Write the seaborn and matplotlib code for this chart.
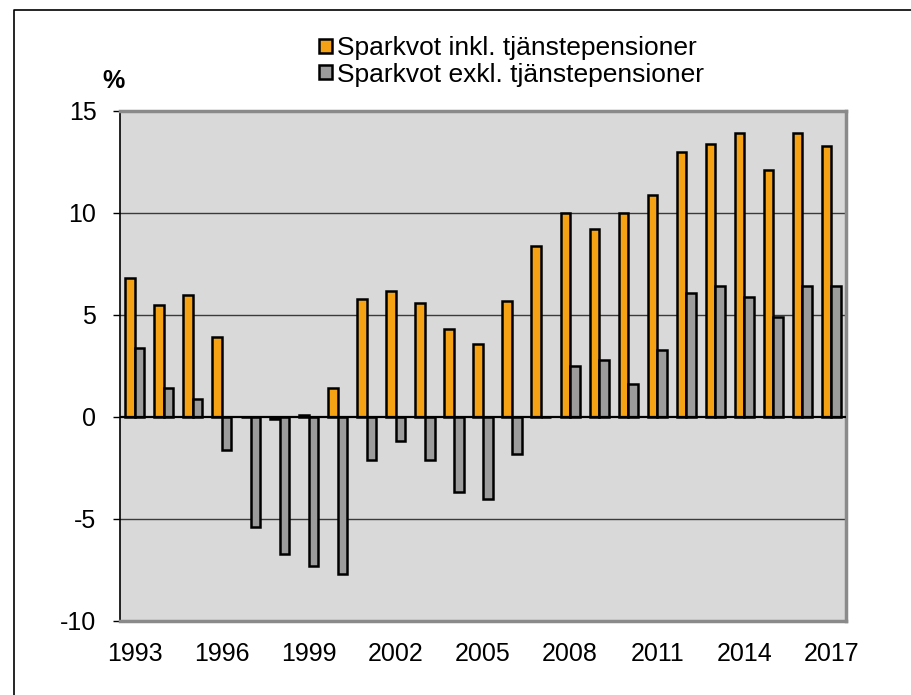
import matplotlib
matplotlib.use("Agg")
import matplotlib.pyplot as plt
from matplotlib.lines import Line2D
import seaborn as sns
import pandas as pd

years = [str(y) for y in range(1993, 2018)]
inkl = [6.8, 5.5, 6.0, 3.9, 0.0, -0.1, 0.1, 1.4, 5.8, 6.2, 5.6, 4.3, 3.6, 5.7,
        8.4, 10.0, 9.2, 10.0, 10.9, 13.0, 13.4, 13.9, 12.1, 13.9, 13.3]
exkl = [3.4, 1.4, 0.9, -1.6, -5.4, -6.7, -7.3, -7.7, -2.1, -1.2, -2.1, -3.7, -4.0, -1.8,
        0.0, 2.5, 2.8, 1.6, 3.3, 6.1, 6.4, 5.9, 4.9, 6.4, 6.4]
series = ["Sparkvot inkl. tjänstepensioner", "Sparkvot exkl. tjänstepensioner"]
colors = ["#F5A314", "#9C9C9C"]
yticks = [-10, -5, 0, 5, 10, 15]
xtick_labels = ["1993", "1996", "1999", "2002", "2005", "2008", "2011", "2014", "2017"]

df = pd.DataFrame({
    "year": years * 2,
    "value": inkl + exkl,
    "series": [series[0]] * len(years) + [series[1]] * len(years),
})

sns.set_theme(style="white")
plt.rcParams["font.family"] = ["Liberation Sans", "DejaVu Sans"]
plt.rcParams["text.color"] = "black"
plt.rcParams["xtick.color"] = "black"
plt.rcParams["ytick.color"] = "black"

fig = plt.figure(figsize=(9.12, 6.95), dpi=100)
ax = fig.add_axes([120 / 912, 1 - 621 / 695, 726 / 912, 510 / 695])
ax.set_facecolor("#D9D9D9")

for yv in [-5, 5, 10]:
    ax.axhline(yv, color="#3a3a3a", lw=1.0, zorder=0.5)

sns.barplot(data=df, x="year", y="value", hue="series", hue_order=series,
            palette=colors, width=0.66, edgecolor="black", linewidth=1.8,
            saturation=1, ax=ax, zorder=2, legend=True)

ax.axhline(0, color="black", lw=1.6, zorder=3)

ax.set_ylim(-10, 15)
ax.set_xlim(-0.5, len(years) - 0.5)
ax.set_yticks(yticks)
ax.set_yticklabels([str(v) for v in yticks], fontsize=18, color="black")
ax.set_xticks([years.index(t) for t in xtick_labels])
ax.set_xticklabels(xtick_labels, fontsize=18, color="black")
ax.set_xlabel("")
ax.set_ylabel("")
ax.tick_params(axis="y", left=True, length=5, width=1, color="black", pad=12)
ax.tick_params(axis="x", bottom=False, length=0, pad=15)

for side in ["top", "right", "bottom"]:
    ax.spines[side].set_color("#8a8a8a")
    ax.spines[side].set_linewidth(2.5)
ax.spines["left"].set_color("black")
ax.spines["left"].set_linewidth(1.2)

handles, labels = ax.get_legend_handles_labels()
ax.get_legend().remove()
fig.legend(handles, labels, loc="upper left", bbox_to_anchor=(0.335, 0.967),
           frameon=False, fontsize=19, handlelength=0.5, handleheight=0.45,
           handletextpad=0.2, labelspacing=0.1, borderpad=0, labelcolor="black")

fig.text(114 / 912, 1 - 81 / 695, "%", fontsize=18, fontweight="bold",
         ha="center", va="center", color="black")

fig.add_artist(Line2D([14 / 912, 14 / 912, 1.0], [0.0, 1 - 10 / 695, 1 - 10 / 695],
                      transform=fig.transFigure, color="black", lw=1.2))

fig.savefig("out.png", dpi=100)
